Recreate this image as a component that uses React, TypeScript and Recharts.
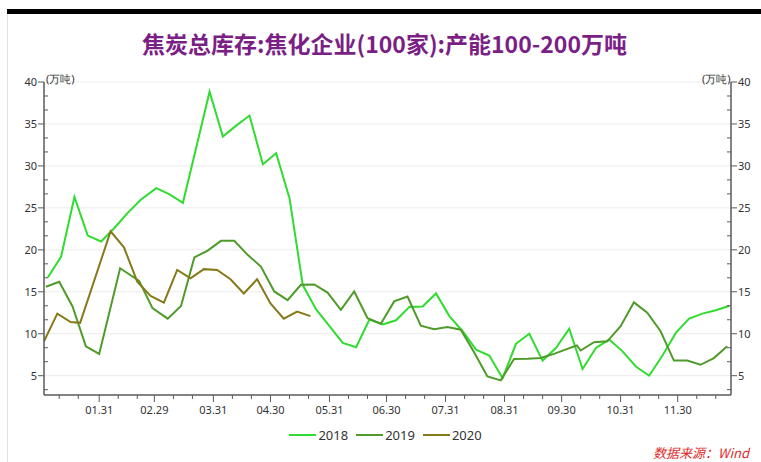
import React from "react";
import { LineChart, Line, XAxis, YAxis, ReferenceLine } from "recharts";

// month starts on the 2020 calendar (the axis shows 02.29)
const monthStart = [0, 31, 60, 91, 121, 152, 182, 213, 244, 274, 305, 335];
const dayOf = (md: string) => {
  const [m, d] = md.split(".").map(Number);
  return monthStart[m - 1] + d;
};

const dates2018 = [
  "01.04","01.11","01.18","01.25","02.01","02.08","02.15","02.22","03.01","03.08",
  "03.15","03.22","03.29","04.05","04.12","04.19","04.26","05.03","05.10","05.17",
  "05.24","05.31","06.07","06.14","06.21","06.28","07.05","07.12","07.19","07.26",
  "08.02","08.09","08.16","08.23","08.30","09.06","09.13","09.20","09.27","10.04",
  "10.11","10.18","10.25","11.01","11.08","11.15","11.22","11.29","12.06","12.13",
  "12.20","12.27",
];
const values2018 = [
  16.7, 19.2, 26.3, 21.7, 21.0, 22.6, 24.4, 26.0, 27.35, 26.6,
  25.6, 32.2, 38.85, 33.5, 34.8, 36.0, 30.2, 31.5, 26.15, 15.8,
  12.9, 10.9, 8.9, 8.4, 11.7, 11.1, 11.6, 13.2, 13.25, 14.8,
  12.1, 10.3, 8.1, 7.4, 4.7, 8.8, 10.0, 6.8, 8.3, 10.6,
  5.8, 8.3, 9.3, 7.9, 6.1, 5.0, 7.4, 10.1, 11.8, 12.4,
  12.8, 13.3,
];

const dates2019 = [
  "01.03","01.10","01.17","01.24","01.31","02.11","02.21","02.28","03.07","03.14",
  "03.21","03.28","04.04","04.11","04.18","04.25","05.02","05.09","05.16","05.23",
  "05.30","06.06","06.13","06.20","06.27","07.04","07.11","07.18","07.25","08.01",
  "08.08","08.15","08.22","08.29","09.05","09.12","09.19","09.26","10.03","10.08",
  "10.10","10.17","10.24","10.31","11.07","11.14","11.21","11.28","12.05","12.12",
  "12.19","12.26",
];
const values2019 = [
  15.6, 16.2, 13.25, 8.5, 7.6, 17.8, 16.3, 13.06, 11.8, 13.3,
  19.1, 19.9, 21.07, 21.07, 19.4, 18.0, 15.04, 14.0, 15.83, 15.87,
  14.9, 12.86, 15.04, 11.86, 11.2, 13.85, 14.44, 10.95, 10.55, 10.8,
  10.48, 7.8, 4.92, 4.44, 7.0, 7.02, 7.1, 7.6, 8.2, 8.6,
  8.0, 9.0, 9.1, 10.9, 13.74, 12.5, 10.3, 6.8, 6.8, 6.3,
  7.1, 8.5,
];

const dates2020 = [
  "01.02","01.09","01.16","01.21","02.06","02.13","02.20","02.27","03.05","03.12",
  "03.19","03.26","04.02","04.09","04.16","04.23","04.30","05.07","05.14","05.21",
];
const values2020 = [
  9.1, 12.4, 11.4, 11.3, 22.2, 20.3, 16.2, 14.5, 13.7, 17.6,
  16.6, 17.7, 17.6, 16.5, 14.8, 16.5, 13.6, 11.8, 12.65, 12.1,
];

const xLabels = ["01.31","02.29","03.31","04.30","05.31","06.30","07.31","08.31","09.30","10.31","11.30"];
const xMinor = ["01.10","01.20","02.10","02.20","03.10","03.20","04.10","04.20","05.10","05.20",
  "06.10","06.20","07.10","07.20","08.10","08.20","09.10","09.20","10.10","10.20",
  "11.10","11.20","12.10","12.20"];
const yMajor = [5, 10, 15, 20, 25, 30, 35, 40];

const series = [
  { name: "2018", dates: dates2018, values: values2018, color: "#2fdc2f" },
  { name: "2019", dates: dates2019, values: values2019, color: "#4f9b2a" },
  { name: "2020", dates: dates2020, values: values2020, color: "#85791a" },
];

const labelDays = xLabels.map(dayOf);
const xTicks = [...labelDays, ...xMinor.map(dayOf)].sort((a, b) => a - b);
const yMinor = yMajor.flatMap((m) => [m - 5 / 3, m - 10 / 3]).filter((v) => v > 2.8);
const yTicks = [...yMajor, ...yMinor].sort((a, b) => a - b);

const axisColor = "#5a5a5a";
const textColor = "#333";
const tickFont = "'Noto Sans', sans-serif";

const XTick = (p: any) => {
  const { x, y, payload } = p;
  const isLabel = labelDays.includes(payload.value);
  const idx = labelDays.indexOf(payload.value);
  return (
    <g>
      <line x1={x} x2={x} y1={y} y2={y + (isLabel ? 7 : 4)} stroke={axisColor} />
      {isLabel && (
        <text x={x} y={y + 19} textAnchor="middle" fontSize={11} fontFamily={tickFont} fill={textColor}>
          {xLabels[idx]}
        </text>
      )}
    </g>
  );
};

const LeftTick = (p: any) => {
  const { x, y, payload } = p;
  const v = payload.value;
  if (!yMajor.includes(v)) return <line x1={x} x2={x + 4} y1={y} y2={y} stroke={axisColor} />;
  return (
    <g>
      <line x1={x - 6} x2={x} y1={y} y2={y} stroke={axisColor} />
      <text x={x - 7} y={y + 4} textAnchor="end" fontSize={11} fontFamily={tickFont} fill={textColor}>{v}</text>
    </g>
  );
};

const RightTick = (p: any) => {
  const { x, y, payload } = p;
  const v = payload.value;
  if (!yMajor.includes(v)) return <line x1={x - 4} x2={x} y1={y} y2={y} stroke={axisColor} />;
  return (
    <g>
      <line x1={x} x2={x + 6} y1={y} y2={y} stroke={axisColor} />
      <text x={x + 7} y={y + 4} textAnchor="start" fontSize={11} fontFamily={tickFont} fill={textColor}>{v}</text>
    </g>
  );
};

export default function App() {
  return (
    <div style={{ position: "absolute", left: 0, top: 0, width: 761, height: 462, background: "#fff", overflow: "hidden" }}>
      <div style={{ position: "absolute", left: 7, top: 9, width: 754, height: 5, background: "#000" }} />
      <div style={{ position: "absolute", left: 7, top: 14, width: 1, height: 448, background: "#e2e2e2" }} />
      <div
        style={{
          position: "absolute", left: 8, top: 28, width: 753, textAlign: "center",
          fontFamily: "'Noto Sans CJK SC', sans-serif", fontWeight: 700, fontSize: 23,
          color: "#7b1f86", lineHeight: "30px",
        }}
      >
        焦炭总库存:焦化企业(100家):产能100-200万吨
      </div>

      <div style={{ position: "absolute", left: 0, top: 0 }}>
        <LineChart width={761} height={462} margin={{ top: 82, right: 0, bottom: 37, left: 0 }}>
          <XAxis
            type="number" dataKey="day" domain={[2, 363]} ticks={xTicks} interval={0}
            tick={XTick} tickLine={false} tickSize={0} tickMargin={0} height={30}
            axisLine={{ stroke: axisColor, strokeWidth: 1.5 }} allowDataOverflow
          />
          <YAxis
            yAxisId="left" orientation="left" width={44} domain={[2.7, 40]} ticks={yTicks}
            interval={0} tick={LeftTick} tickLine={false} tickSize={0} tickMargin={0}
            axisLine={{ stroke: axisColor, strokeWidth: 1.5 }} allowDataOverflow
          />
          <YAxis
            yAxisId="right" orientation="right" width={30} domain={[2.7, 40]} ticks={yTicks}
            interval={0} tick={RightTick} tickLine={false} tickSize={0} tickMargin={0}
            axisLine={{ stroke: axisColor, strokeWidth: 1.5 }} allowDataOverflow
          />
          {yMajor.map((v) => (
            <ReferenceLine key={v} yAxisId="left" y={v} stroke="#ebebeb" strokeWidth={1} />
          ))}
          {series.map((s) => (
            <Line
              key={s.name}
              yAxisId="left"
              type="linear"
              dataKey="v"
              name={s.name}
              data={s.dates.map((d, i) => ({ day: dayOf(d), v: s.values[i] }))}
              stroke={s.color}
              strokeWidth={2}
              dot={false}
              isAnimationActive={false}
            />
          ))}
        </LineChart>
      </div>

      <div style={{ position: "absolute", left: 46, top: 71, fontSize: 11, fontFamily: tickFont, color: textColor }}>(万吨)</div>
      <div style={{ position: "absolute", left: 702, top: 71, fontSize: 11, fontFamily: tickFont, color: textColor }}>(万吨)</div>

      <div
        style={{
          position: "absolute", left: 0, top: 426, width: 761, display: "flex", justifyContent: "center",
          paddingLeft: 18, boxSizing: "border-box", fontFamily: tickFont, fontSize: 13, color: textColor,
        }}
      >
        {series.map((s) => (
          <div key={s.name} style={{ display: "flex", alignItems: "center", marginRight: 8 }}>
            <div style={{ width: 27, height: 2, background: s.color, marginRight: 2 }} />
            <span>{s.name}</span>
          </div>
        ))}
      </div>

      <div
        style={{
          position: "absolute", right: 12, top: 445, fontSize: 13, lineHeight: "16px", fontStyle: "italic",
          fontFamily: "'Noto Sans CJK SC', sans-serif", color: "#e02b2b",
        }}
      >
        数据来源：Wind
      </div>
    </div>
  );
}
